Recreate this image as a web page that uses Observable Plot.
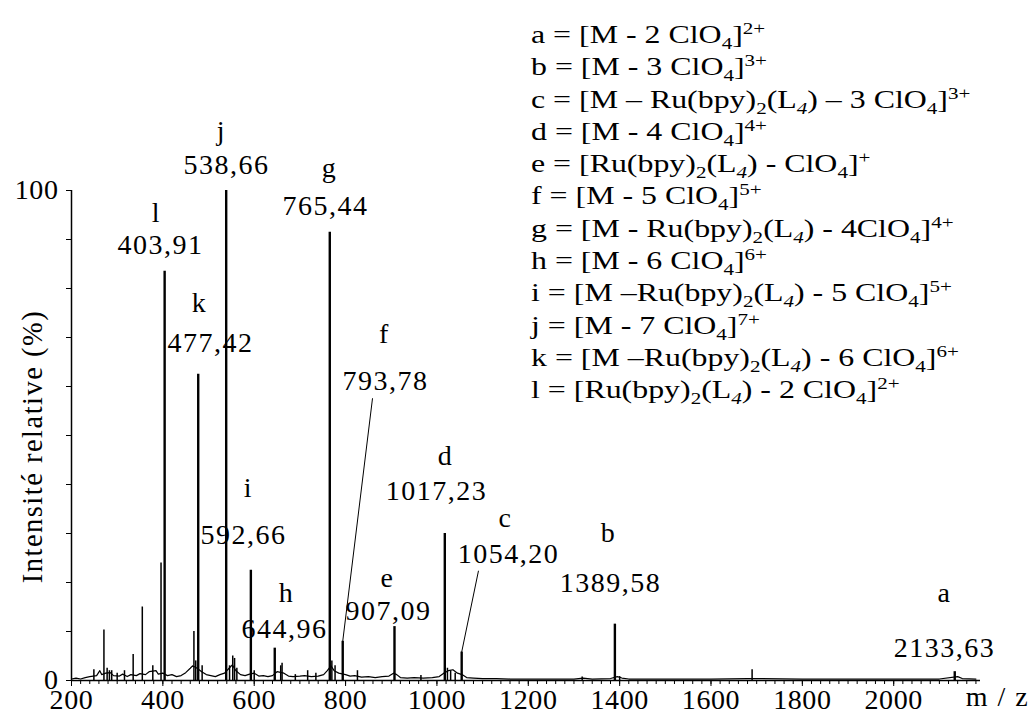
<!DOCTYPE html>
<html><head><meta charset="utf-8">
<script src="https://cdn.jsdelivr.net/npm/d3@7"></script>
<script src="https://cdn.jsdelivr.net/npm/@observablehq/plot@0.6"></script>
<style>
body{margin:0;background:#fff;}
#wrap{position:relative;width:1036px;height:720px;font-family:"Liberation Serif","DejaVu Serif",serif;color:#000;}
#legend{position:absolute;left:531px;top:19px;font-size:25.5px;line-height:32.3px;white-space:nowrap;font-family:"Liberation Serif","DejaVu Serif",serif;transform:scaleX(1.25);transform-origin:0 0;}
#legend sub,#legend sup{font-size:0.66em;line-height:0;}
#chart g[aria-label="text"] text{letter-spacing:1.5px;}
#chart g[aria-label="x-axis tick label"] text,#chart g[aria-label="y-axis tick label"] text{letter-spacing:0.6px;}
</style></head><body>
<div id="wrap"><div id="chart"></div><div id="legend"></div></div>
<script>
// Labelled peaks
const peakKeys = ["a","b","c","d","e","f","g","h","i","j","k","l"];
const peakMz   = [2133.63,1389.58,1054.20,1017.23,907.09,793.78,765.44,644.96,592.66,538.66,477.42,403.91];
const peakInt  = [1.8,11.5,5.8,30,11,8,91.5,6.6,22.5,100,62.5,83.5];

// Unlabelled peaks
const minorMz  = [249,271,278,283,288,300,316,335,355,378,396,468,472,486,546,553,557,562,600,658,661,690,717,735,770,777,826,965,1023,1030,1040,1318,1400,1690];
const minorInt = [2.2,10.3,2.5,2,2,1.5,2,5.3,15,3,24,10,4,3,3,5,4.5,2.5,2,3,3.5,1.2,2,1.5,4,3,2,1,2.5,2,1.5,0.7,0.8,2.2];

// Baseline noise
const noiseMz  = [200,210,220,230,240,255,262,266,275,285,292,305,312,322,330,342,350,362,370,385,390,400,410,420,430,440,450,460,465,475,485,495,505,515,525,535,545,552,560,570,580,590,600,610,620,630,640,650,665,675,685,700,710,725,740,752,760,768,775,785,800,810,820,835,850,865,880,895,905,912,920,935,950,970,990,1005,1015,1025,1035,1045,1055,1065,1080,1100,1130,1160,1200,1250,1300,1320,1340,1380,1395,1405,1420,1500,1600,1680,1700,1800,1900,2000,2100,2140,2150,2180];
const noiseInt = [0.3,0.5,0.3,0.6,0.8,1.0,2.0,1.2,1.5,1.6,1.0,0.9,1.3,0.8,1.2,1.0,1.4,1.2,1.8,2.0,1.3,1.5,1.0,1.2,0.8,1.0,1.6,2.5,3.0,2.5,1.8,1.2,1.0,0.8,1.2,1.5,2.5,3.2,2.0,1.2,1.0,1.3,1.5,0.9,1.0,0.8,1.0,1.8,1.5,0.9,0.8,0.9,1.0,0.8,0.9,1.2,2.0,3.0,2.0,1.5,1.2,0.9,1.0,0.7,0.8,0.6,0.8,0.9,1.5,1.2,0.6,0.5,0.6,0.5,0.6,0.8,1.5,2.0,2.2,1.5,1.2,0.6,0.5,0.4,0.4,0.3,0.3,0.3,0.3,0.5,0.3,0.4,0.8,0.5,0.3,0.3,0.3,0.4,0.4,0.3,0.3,0.3,0.3,0.8,0.4,0.3];

// Axis ticks
const xTickLabels = [200,400,600,800,1000,1200,1400,1600,1800,2000];
const yTickLabels = [0,100];

// Legend
const legendKeys = ["a","b","c","d","e","f","g","h","i","j","k","l"];
const legendFormulas = [
  "[M - 2 ClO<sub>4</sub>]<sup>2+</sup>",
  "[M - 3 ClO<sub>4</sub>]<sup>3+</sup>",
  "[M – Ru(bpy)<sub>2</sub>(L<sub><i>4</i></sub>) – 3 ClO<sub>4</sub>]<sup>3+</sup>",
  "[M - 4 ClO<sub>4</sub>]<sup>4+</sup>",
  "[Ru(bpy)<sub>2</sub>(L<sub><i>4</i></sub>) - ClO<sub>4</sub>]<sup>+</sup>",
  "[M - 5 ClO<sub>4</sub>]<sup>5+</sup>",
  "[M - Ru(bpy)<sub>2</sub>(L<sub><i>4</i></sub>) - 4ClO<sub>4</sub>]<sup>4+</sup>",
  "[M - 6 ClO<sub>4</sub>]<sup>6+</sup>",
  "[M –Ru(bpy)<sub>2</sub>(L<sub><i>4</i></sub>) - 5 ClO<sub>4</sub>]<sup>5+</sup>",
  "[M - 7 ClO<sub>4</sub>]<sup>7+</sup>",
  "[M –Ru(bpy)<sub>2</sub>(L<sub><i>4</i></sub>) - 6 ClO<sub>4</sub>]<sup>6+</sup>",
  "[Ru(bpy)<sub>2</sub>(L<sub><i>4</i></sub>) - 2 ClO<sub>4</sub>]<sup>2+</sup>"
];

// Label layout (data units: mz, %), kept apart from the data
const labelLayout = {
  a:{nx:2111,ny:6.7,lx:2111,ly:17.9},
  b:{nx:1380,ny:19.8,lx:1375.6,ly:30.0},
  c:{nx:1156.7,ny:25.9,lx:1150.1,ly:33.1,leader:[1091,22.4]},
  d:{nx:999,ny:38.6,lx:1018.7,ly:45.9},
  e:{nx:894,ny:14.1,lx:891.8,ly:21.0},
  f:{nx:887.4,ny:61.2,lx:885.2,ly:70.8,leader:[859,57.6]},
  g:{nx:756,ny:96.9,lx:764.8,ly:104.5},
  h:{nx:666.3,ny:10.6,lx:670.7,ly:17.8},
  i:{nx:576.5,ny:29.6,lx:587.5,ly:39.2},
  j:{nx:539.3,ny:105.1,lx:528.4,ly:112.2},
  k:{nx:504.3,ny:68.8,lx:480.2,ly:77.1},
  l:{nx:394.8,ny:88.8,lx:386,ly:95.3}
};

const peaks = peakKeys.map((k,i)=>({key:k,mz:peakMz[i],int:peakInt[i],text:peakMz[i].toFixed(2).replace(".",",")}));
const minors = minorMz.map((m,i)=>({mz:m,int:minorInt[i]}));
const noise = noiseMz.map((m,i)=>({mz:m,int:noiseInt[i]}));
const leaders = peaks.filter(p=>labelLayout[p.key].leader).map(p=>({x1:labelLayout[p.key].leader[0],y1:labelLayout[p.key].leader[1],x2:p.mz,y2:p.int}));

const font = '"Liberation Serif", "DejaVu Serif", serif';
const minorTicks = d3.range(200, 2190, 20);
const yTicks = d3.range(0, 101, 10);

const chart = Plot.plot({
  width:1036, height:720,
  marginLeft:71, marginRight:56, marginTop:190, marginBottom:40,
  style:{fontFamily:font, fontSize:"28px", color:"#000", background:"#fff"},
  x:{domain:[200,2190]},
  y:{domain:[0,100]},
  marks:[
    Plot.ruleX(minorTicks,{y1:0,y2:0,insetBottom:-4,stroke:"#000",strokeWidth:1}),
    Plot.ruleY(yTicks,{x1:200,x2:200,insetLeft:-5,stroke:"#000",strokeWidth:1}),
    Plot.axisX(xTickLabels,{tickSize:6, tickPadding:3, tickFormat:d=>String(d), label:null, fontSize:28, stroke:"#000"}),
    Plot.axisY(yTickLabels,{tickSize:5, tickPadding:8, tickFormat:d=>String(d), label:null, fontSize:28, stroke:"#000"}),
    Plot.ruleY([0],{stroke:"#000", strokeWidth:1.5}),
    Plot.ruleX([200],{y1:0,y2:100,stroke:"#000", strokeWidth:1.5}),
    Plot.lineY(noise,{x:"mz",y:"int",stroke:"#000",strokeWidth:1.2}),
    Plot.ruleX(minors,{x:"mz",y1:0,y2:"int",stroke:"#000",strokeWidth:1.5}),
    Plot.ruleX(peaks,{x:"mz",y1:0,y2:"int",stroke:"#000",strokeWidth:2.4}),
    Plot.link(leaders,{x1:"x1",y1:"y1",x2:"x2",y2:"y2",stroke:"#000",strokeWidth:1}),
    Plot.text(peaks,{x:d=>labelLayout[d.key].nx,y:d=>labelLayout[d.key].ny,text:"text",fontSize:28,fill:"#000"}),
    Plot.text(peaks,{x:d=>labelLayout[d.key].lx,y:d=>labelLayout[d.key].ly,text:"key",fontSize:28,fill:"#000"}),
    Plot.text(["Intensité relative (%)"],{frameAnchor:"left",textAnchor:"middle",lineAnchor:"middle",rotate:-90,dx:-39,dy:11,fontSize:28.5,fill:"#000"}),
    Plot.text(["m / z"],{frameAnchor:"bottom-right",textAnchor:"middle",lineAnchor:"middle",dx:17,dy:17,fontSize:28,fill:"#000"})
  ]
});
document.getElementById("chart").appendChild(chart);
document.getElementById("legend").innerHTML = legendKeys.map((k,i)=>`<div>${k} = ${legendFormulas[i]}</div>`).join("");
</script>
</body></html>
